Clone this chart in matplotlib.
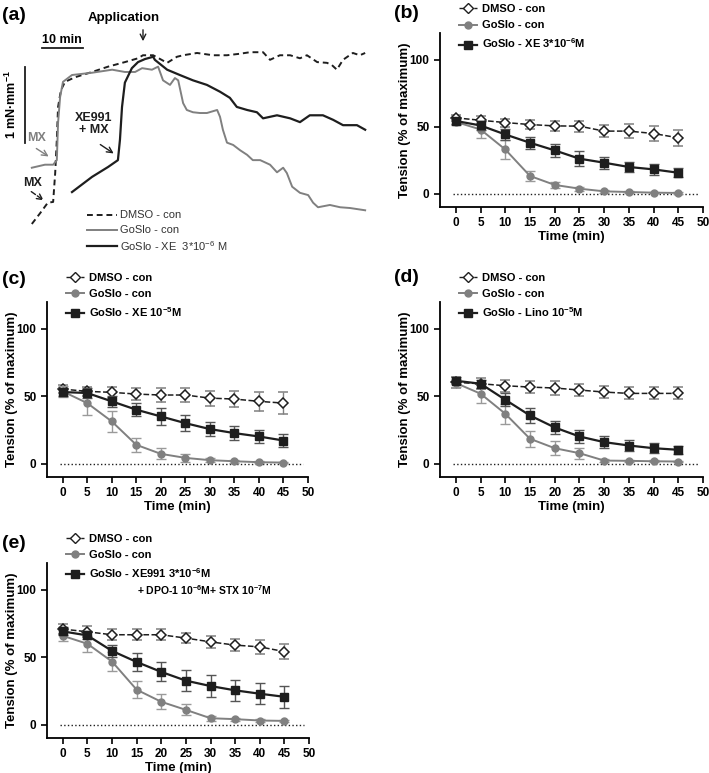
import matplotlib
matplotlib.use("Agg")
import matplotlib.pyplot as plt
from matplotlib.lines import Line2D

plt.rcParams['font.family'] = ['Liberation Sans', 'DejaVu Sans']
plt.rcParams['mathtext.fontset'] = 'custom'
plt.rcParams['mathtext.rm'] = 'Liberation Sans'
plt.rcParams['mathtext.bf'] = 'Liberation Sans:bold'
plt.rcParams['mathtext.it'] = 'Liberation Sans:italic'

# ---- panel (a): raw tension traces (time in min, tension in mN/mm) ----
dmso_t = [0.2, 2.2, 4.1, 5.4, 5.9, 6.3, 6.6, 7.3, 8.3, 10.7, 14.9, 18.8, 22.9, 26.1, 27.3,
          29.8, 33.2, 35.6, 37.1, 40.5, 44.4, 47.8, 51.0, 53.4, 56.6, 58.3, 60.7, 63.2, 65.6,
          67.3, 69.8, 72.2, 73.4, 74.6, 76.1, 78.5, 80.2, 81.5]
dmso_v = [0.0, 0.14, 0.28, 0.29, 0.67, 1.11, 1.54, 1.76, 1.87, 1.93, 2.0, 2.07, 2.13, 2.18, 2.22,
          2.22, 2.12, 2.20, 2.22, 2.25, 2.22, 2.22, 2.24, 2.26, 2.26, 2.16, 2.22, 2.22, 2.18,
          2.22, 2.13, 2.12, 2.09, 2.03, 2.16, 2.25, 2.22, 2.25]

goslo_t = [0.2, 3.4, 5.4, 6.3, 6.6, 7.1, 7.8, 10.0, 14.9, 19.8, 22.9, 25.4, 27.1, 29.5, 31.0,
           32.2, 33.9, 35.1, 35.9, 37.1, 38.0, 39.5, 41.2, 42.9, 45.4, 46.1, 46.8, 47.8, 49.3,
           51.0, 52.7, 54.1, 55.9, 58.3, 60.0, 61.5, 62.4, 63.7, 65.6, 67.6, 68.8, 70.0, 72.9,
           75.4, 77.8, 81.5]
goslo_v = [0.74, 0.78, 0.78, 0.84, 1.33, 1.67, 1.87, 1.96, 1.99, 2.03, 2.0, 2.0, 2.05, 2.03, 2.07,
           1.89, 1.83, 1.92, 1.89, 1.59, 1.50, 1.47, 1.46, 1.46, 1.50, 1.41, 1.24, 1.07, 1.04,
           0.97, 0.91, 0.84, 0.84, 0.78, 0.68, 0.74, 0.67, 0.49, 0.41, 0.38, 0.28, 0.22, 0.25,
           0.22, 0.21, 0.18]

xe_t = [10.0, 14.9, 18.8, 21.2, 21.7, 22.2, 22.9, 24.6, 26.1, 27.8, 29.8, 30.2, 33.2, 36.3,
        39.5, 42.9, 46.1, 48.5, 50.2, 52.7, 55.1, 56.6, 60.0, 63.2, 65.6, 68.0, 71.2, 73.7,
        76.1, 79.5, 81.5]
xe_v = [0.42, 0.62, 0.75, 0.84, 1.11, 1.54, 1.86, 2.05, 2.13, 2.17, 2.20, 2.16, 2.03, 1.96,
        1.89, 1.83, 1.74, 1.66, 1.54, 1.50, 1.47, 1.39, 1.43, 1.39, 1.34, 1.43, 1.43, 1.37,
        1.30, 1.30, 1.24]

# ---- panels (b)-(e): mean +/- SEM, % of maximum ----
time = [0, 5, 10, 15, 20, 25, 30, 35, 40, 45]

b_dmso = [56.6, 54.8, 53.1, 51.6, 50.6, 50.4, 46.7, 46.7, 44.9, 41.7]
b_dmso_err = [2.5, 3, 3, 3.5, 3.5, 4, 4.5, 5, 5.5, 6]
b_goslo = [53.6, 47.9, 33.0, 13.2, 6.5, 3.7, 1.7, 1.2, 0.7, 0.5]
b_goslo_err = [2, 6, 7, 4, 2.5, 1.5, 1, 0.8, 0.6, 0.5]
b_xe = [54.3, 50.9, 44.2, 38.0, 32.3, 26.1, 23.1, 19.9, 18.1, 15.6]
b_xe_err = [2, 3, 4, 4.5, 5, 5.5, 4.5, 4, 4, 3.5]

c_dmso = [55.3, 53.6, 52.9, 51.6, 50.9, 50.9, 48.6, 47.9, 46.2, 44.9]
c_dmso_err = [3, 3.5, 4, 4.5, 5, 5.5, 5.5, 6, 7, 8]
c_goslo = [53.6, 44.9, 31.3, 13.9, 7.2, 4.2, 2.5, 1.7, 1.0, 0.7]
c_goslo_err = [4, 8.5, 8, 5, 4, 3, 1.5, 1, 0.6, 0.5]
c_xe = [53.1, 52.4, 46.2, 40.0, 35.0, 30.0, 25.6, 22.6, 20.1, 17.1]
c_xe_err = [3, 3.5, 4, 5, 6, 6, 5.5, 5, 4.5, 4.5]

d_dmso = [60.3, 59.3, 57.8, 56.8, 56.1, 54.6, 53.1, 52.1, 52.1, 52.1]
d_dmso_err = [4, 4, 4.5, 4.5, 5, 4.5, 4.5, 4.5, 4.5, 4.5]
d_goslo = [59.8, 51.9, 37.0, 18.4, 11.4, 7.7, 2.2, 2.0, 1.7, 1.5]
d_goslo_err = [3, 7, 7.5, 6, 5, 4, 1, 0.8, 0.6, 0.5]
d_xe = [61.5, 59.3, 47.4, 35.7, 26.8, 20.1, 15.9, 13.4, 11.4, 10.2]
d_xe_err = [2.5, 3, 5, 5.5, 5, 5, 4.5, 4, 3.5, 3]

e_dmso = [70.9, 68.9, 66.7, 66.7, 66.7, 64.2, 61.4, 59.0, 57.7, 54.2]
e_dmso_err = [3.5, 4, 4, 4, 4, 3.5, 4.5, 4.5, 5, 5.5]
e_goslo = [65.9, 60.0, 46.8, 25.9, 16.9, 10.9, 4.7, 4.0, 3.0, 2.7]
e_goslo_err = [4, 6, 7, 6.5, 5.5, 4, 2, 1, 0.8, 0.6]
e_xe = [69.2, 66.2, 54.7, 46.5, 39.1, 32.6, 28.6, 25.4, 22.9, 20.6]
e_xe_err = [3, 3, 4.5, 6.5, 7, 8, 8, 8, 8, 8]

GRAY = '#808080'
DARK = '#1e1e1e'

W, H = 709, 773
fig = plt.figure(figsize=(W / 100, H / 100), dpi=100)


def fig_rect(left, top, right, bottom):
    # pixel box -> figure fraction
    return [left / W, 1 - bottom / H, (right - left) / W, (bottom - top) / H]


# ================= panel (a) =================
axA = fig.add_axes(fig_rect(0, 0, 375, 260))
axA.set_xlim(-7.56, 83.9)
axA.set_ylim(-0.474, 2.947)
axA.axis('off')

axA.plot(dmso_t, dmso_v, color=DARK, lw=1.4, ls=(0, (3, 2)))
axA.plot(goslo_t, goslo_v, color=GRAY, lw=1.4)
axA.plot(xe_t, xe_v, color=DARK, lw=1.6)


def pa(x, y):
    # pixel position inside panel (a) -> axes fraction
    return (x / 375, 1 - y / 260)


tA = axA.transAxes
axA.text(*pa(2, 15), '(a)', transform=tA, fontsize=14, fontweight='bold', va='center')
axA.text(*pa(124, 18), 'Application', transform=tA, fontsize=9.5, fontweight='bold',
         ha='center', va='center')
axA.annotate('', xy=pa(143, 44), xytext=pa(143, 27), xycoords=tA, textcoords=tA,
             arrowprops=dict(arrowstyle='->', lw=1, color=DARK))
axA.text(*pa(62, 40), '10 min', transform=tA, fontsize=9, fontweight='bold',
         ha='center', va='center')
axA.plot(*zip(pa(42, 48), pa(83, 48)), transform=tA, color=DARK, lw=1.3)
axA.plot(*zip(pa(25, 67), pa(25, 143)), transform=tA, color=DARK, lw=1.3)
axA.text(*pa(11, 105), '1 mN·mm$^{\\mathbf{-1}}$', transform=tA, fontsize=9,
         fontweight='bold', rotation=90, ha='center', va='center')

axA.text(*pa(37, 138), 'MX', transform=tA, fontsize=9, fontweight='bold', color=GRAY,
         ha='center', va='center')
axA.annotate('', xy=pa(51, 158), xytext=pa(34, 147), xycoords=tA, textcoords=tA,
             arrowprops=dict(arrowstyle='->', lw=1, color=GRAY))
axA.text(*pa(33, 183), 'MX', transform=tA, fontsize=9, fontweight='bold', color=DARK,
         ha='center', va='center')
axA.annotate('', xy=pa(46, 202), xytext=pa(29, 190), xycoords=tA, textcoords=tA,
             arrowprops=dict(arrowstyle='->', lw=1, color=DARK, ls='--'))
axA.text(*pa(94, 124), 'XE991\n+ MX', transform=tA, fontsize=9, fontweight='bold',
         color=DARK, ha='center', va='center', linespacing=1.1)
axA.annotate('', xy=pa(116, 155), xytext=pa(98, 143), xycoords=tA, textcoords=tA,
             arrowprops=dict(arrowstyle='->', lw=1, color=DARK))

leg_a = [('DMSO - con', DARK, (0, (3, 2)), 1.4),
         ('GoSlo - con', GRAY, '-', 1.4),
         ('GoSlo - XE  3*10$^{-6}$ M', DARK, '-', 1.6)]
for i, (lab, col, ls, lw) in enumerate(leg_a):
    y = [215, 230, 246][i]
    axA.plot(*zip(pa(87, y), pa(117, y)), transform=tA, color=col, ls=ls, lw=lw)
    axA.text(*pa(120, y), lab, transform=tA, fontsize=8, color='#333333', va='center')


# ================= panels (b)-(e) =================
def panel(rect, tag, tag_xy, dm, dm_e, gs, gs_e, xe, xe_e, xe_label, extra=None):
    ax = fig.add_axes(rect)
    ax.axhline(0, color=DARK, ls=':', lw=1, xmin=0.05, xmax=0.98)
    ax.errorbar(time, dm, yerr=dm_e, color=DARK, ls='--', lw=1.1, marker='D', ms=5.5,
                mfc='white', mec=DARK, mew=1.1, ecolor=GRAY, elinewidth=1, capsize=3.5,
                capthick=1, zorder=3)
    ax.errorbar(time, gs, yerr=gs_e, color=GRAY, ls='-', lw=1.4, marker='o', ms=5,
                mfc=GRAY, mec=GRAY, ecolor='#9a9a9a', elinewidth=1, capsize=3.5,
                capthick=1, zorder=4)
    ax.errorbar(time, xe, yerr=xe_e, color=DARK, ls='-', lw=1.6, marker='s', ms=6,
                mfc=DARK, mec=DARK, ecolor='#555555', elinewidth=1, capsize=3.5,
                capthick=1, zorder=5)
    h1 = Line2D([], [], color=DARK, ls='--', lw=1, marker='D', ms=5.5, mfc='white', mec=DARK)
    h2 = Line2D([], [], color=GRAY, ls='-', lw=1.4, marker='o', ms=5, mfc=GRAY, mec=GRAY)
    h3 = Line2D([], [], color=DARK, ls='-', lw=1.6, marker='s', ms=6, mfc=DARK, mec=DARK)
    ax.legend([h1, h2, h3], ['DMSO - con', 'GoSlo - con', xe_label], loc='upper left',
              bbox_to_anchor=(0.055, 1.19), frameon=False, handlelength=1.6,
              handletextpad=0.5, labelspacing=0.55, borderaxespad=0,
              prop=dict(weight='bold', size=8))
    if extra:
        ax.text(0.345, 0.845, extra, transform=ax.transAxes, fontsize=7.5,
                fontweight='bold', va='center', ha='left')
    ax.set_xlim(-3.2, 50)
    ax.set_ylim(-10, 120)
    ax.set_xticks(range(0, 51, 5))
    ax.set_yticks([0, 50, 100])
    for s in ['top', 'right']:
        ax.spines[s].set_visible(False)
    for s in ['left', 'bottom']:
        ax.spines[s].set_linewidth(1.3)
    ax.tick_params(direction='out', length=4, width=1.2, labelsize=8.5)
    for lab in ax.get_xticklabels() + ax.get_yticklabels():
        lab.set_fontweight('bold')
    ax.set_xlabel('Time (min)', fontsize=9.5, fontweight='bold', labelpad=1)
    ax.set_ylabel('Tension (% of maximum)', fontsize=9.5, fontweight='bold', labelpad=-1)
    fig.text(tag_xy[0] / W, 1 - tag_xy[1] / H, tag, fontsize=14, fontweight='bold',
             va='center')
    return ax


panel(fig_rect(440, 33, 703, 207), '(b)', (394, 14), b_dmso, b_dmso_err, b_goslo,
      b_goslo_err, b_xe, b_xe_err, 'GoSlo - XE 3*10$^{\\mathbf{-6}}$M')
panel(fig_rect(47, 302, 308, 477), '(c)', (2, 280), c_dmso, c_dmso_err, c_goslo,
      c_goslo_err, c_xe, c_xe_err, 'GoSlo - XE 10$^{\\mathbf{-5}}$M')
panel(fig_rect(440, 302, 703, 477), '(d)', (394, 278), d_dmso, d_dmso_err, d_goslo,
      d_goslo_err, d_xe, d_xe_err, 'GoSlo - Lino 10$^{\\mathbf{-5}}$M')
panel(fig_rect(47, 563, 309, 738), '(e)', (2, 543), e_dmso, e_dmso_err, e_goslo,
      e_goslo_err, e_xe, e_xe_err, 'GoSlo - XE991 3*10$^{\\mathbf{-6}}$M',
      extra='+ DPO-1 10$^{\\mathbf{-6}}$M+ STX 10$^{\\mathbf{-7}}$M')

fig.savefig('out.png', dpi=100)
